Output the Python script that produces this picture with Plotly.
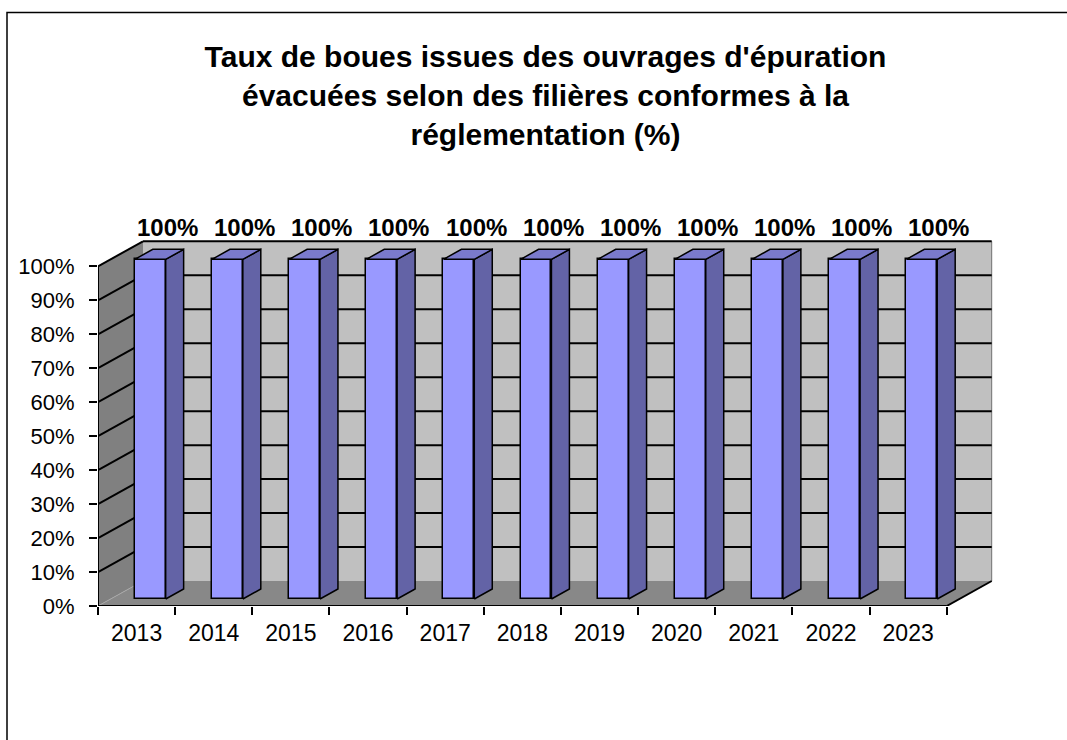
import plotly.graph_objects as go

# ---- data ----
years = ["2013", "2014", "2015", "2016", "2017", "2018", "2019", "2020", "2021", "2022", "2023"]
values = [100, 100, 100, 100, 100, 100, 100, 100, 100, 100, 100]
value_labels = ["100%"] * len(values)
y_ticks = [0, 10, 20, 30, 40, 50, 60, 70, 80, 90, 100]
title_text = ("Taux de boues issues des ouvrages d'épuration<br>"
              "évacuées selon des filières conformes à la<br>"
              "réglementation (%)")

# ---- 3D geometry (axis units) ----
DX, DY = 0.583, 7.36          # depth of the walls
BASE = 2.06                   # bar front plane height offset
OFF, W = -0.023, 0.40         # bar front face offset / width
BDX, BDY = 0.233, 2.94        # bar depth
X0, X1 = -0.5, len(years) - 0.5
XR = [-0.5, 11.1]
YR = [0, 116]

FRONT = "#9999FF"
SIDE = "#6363A6"
TOP = "#7A7ACC"
FONT = "Liberation Sans, Arial, sans-serif"

fig = go.Figure()

# front faces of bars (real bar trace on category axis)
fig.add_trace(go.Bar(
    x=years, y=values, base=BASE, width=W, offset=OFF,
    marker=dict(color=FRONT, line=dict(color="black", width=1.5)),
    hoverinfo="skip", showlegend=False,
))

# side and top faces computed from the values
sx, sy, tx, ty = [], [], [], []
for i, v in enumerate(values):
    xa = i + OFF
    xb = xa + W
    sx += [xb, xb + BDX, xb + BDX, xb, xb, None]
    sy += [BASE, BASE + BDY, BASE + v + BDY, BASE + v, BASE, None]
    tx += [xa, xb, xb + BDX, xa + BDX, xa, None]
    ty += [BASE + v, BASE + v, BASE + v + BDY, BASE + v + BDY, BASE + v, None]

fig.add_trace(go.Scatter(x=sx, y=sy, xaxis="x2", mode="lines", fill="toself",
                         fillcolor=SIDE, line=dict(color="black", width=1.5),
                         hoverinfo="skip", showlegend=False))
fig.add_trace(go.Scatter(x=tx, y=ty, xaxis="x2", mode="lines", fill="toself",
                         fillcolor=TOP, line=dict(color="black", width=1.5),
                         hoverinfo="skip", showlegend=False))

shapes = []
# back wall
shapes.append(dict(type="path", xref="x2", yref="y", layer="below",
                   path=f"M{X0+DX},{DY} L{X1+DX},{DY} L{X1+DX},{100+DY} L{X0+DX},{100+DY} Z",
                   fillcolor="#C0C0C0", line=dict(width=0)))
# left wall
shapes.append(dict(type="path", xref="x2", yref="y", layer="below",
                   path=f"M{X0},0 L{X0},100 L{X0+DX},{100+DY} L{X0+DX},{DY} Z",
                   fillcolor="#808080", line=dict(width=0)))
# floor
shapes.append(dict(type="path", xref="x2", yref="y", layer="below",
                   path=f"M{X0},0 L{X1},0 L{X1+DX},{DY} L{X0+DX},{DY} Z",
                   fillcolor="#888888", line=dict(width=0)))
# back wall right edge
shapes.append(dict(type="line", xref="x2", yref="y", layer="below",
                   x0=X1 + DX, y0=DY, x1=X1 + DX, y1=100 + DY,
                   line=dict(color="#707070", width=1)))
# faint 0% diagonal on left wall
shapes.append(dict(type="line", xref="x2", yref="y", layer="below",
                   x0=X0, y0=0, x1=X0 + DX, y1=DY,
                   line=dict(color="#A8A8A8", width=1)))
# gridlines
for v in y_ticks[1:]:
    shapes.append(dict(type="line", xref="x2", yref="y", layer="below",
                       x0=X0 + DX, y0=v + DY, x1=X1 + DX, y1=v + DY,
                       line=dict(color="black", width=2)))
    shapes.append(dict(type="line", xref="x2", yref="y", layer="below",
                       x0=X0, y0=v, x1=X0 + DX, y1=v + DY,
                       line=dict(color="black", width=2)))
# axis lines
shapes.append(dict(type="line", xref="x2", yref="y", x0=X0, y0=0, x1=X0, y1=100,
                   line=dict(color="black", width=2)))
shapes.append(dict(type="line", xref="x2", yref="y", x0=X0, y0=0, x1=X1, y1=0,
                   line=dict(color="black", width=2)))
shapes.append(dict(type="line", xref="x2", yref="y", x0=X1, y0=0, x1=X1 + DX, y1=DY,
                   line=dict(color="black", width=2)))

# outer frame (partly off page)
ML, MR, MT, MB = 98, 74, 212, 134
PW = 1067 - ML - MR
PH = 740 - MT - MB
def px_x(p):
    return (p - ML) / PW
def px_y(p):
    return (740 - MB - p) / PH
shapes.append(dict(type="rect", xref="paper", yref="paper",
                   x0=px_x(7), x1=px_x(1100), y0=px_y(780), y1=px_y(12.5),
                   line=dict(color="black", width=1.5), fillcolor="rgba(0,0,0,0)"))

# data labels
annotations = []
for i, (v, t) in enumerate(zip(values, value_labels)):
    annotations.append(dict(x=i + 0.40, y=v + 11.3, xref="x2", yref="y", text=t,
                            showarrow=False, xanchor="center", yanchor="middle",
                            font=dict(family=FONT, size=24, color="black", weight="bold")))

fig.update_layout(
    width=1067, height=740,
    margin=dict(l=ML, r=MR, t=MT, b=MB, autoexpand=False),
    paper_bgcolor="white", plot_bgcolor="white",
    showlegend=False,
    title=dict(text=title_text, x=0.5, xref="paper", xanchor="center",
               y=1 - 67 / 740, yref="container", yanchor="middle",
               font=dict(family=FONT, size=30, color="black", weight="bold")),
    xaxis=dict(type="category", categoryorder="array", categoryarray=years,
               range=XR, tickson="boundaries", ticks="outside", ticklen=8,
               tickwidth=1.5, tickcolor="black", showgrid=False, showline=False,
               zeroline=False, tickfont=dict(family=FONT, size=23, color="black"),
               ticklabelstandoff=11, fixedrange=True),
    xaxis2=dict(type="linear", overlaying="x", range=XR, visible=False,
                showgrid=False, zeroline=False, fixedrange=True),
    yaxis=dict(range=YR, tickvals=y_ticks, ticktext=[f"{v}%" for v in y_ticks],
               ticks="outside", ticklen=8, tickwidth=1.5, tickcolor="black",
               showgrid=False, showline=False, zeroline=False,
               tickfont=dict(family=FONT, size=22, color="black"),
               ticklabelstandoff=10, fixedrange=True),
    shapes=shapes,
    annotations=annotations,
    bargap=0,
)

fig.write_html("out.html", config={"displayModeBar": False},
               post_script="document.body.style.margin='0';document.body.style.overflow='hidden';")
